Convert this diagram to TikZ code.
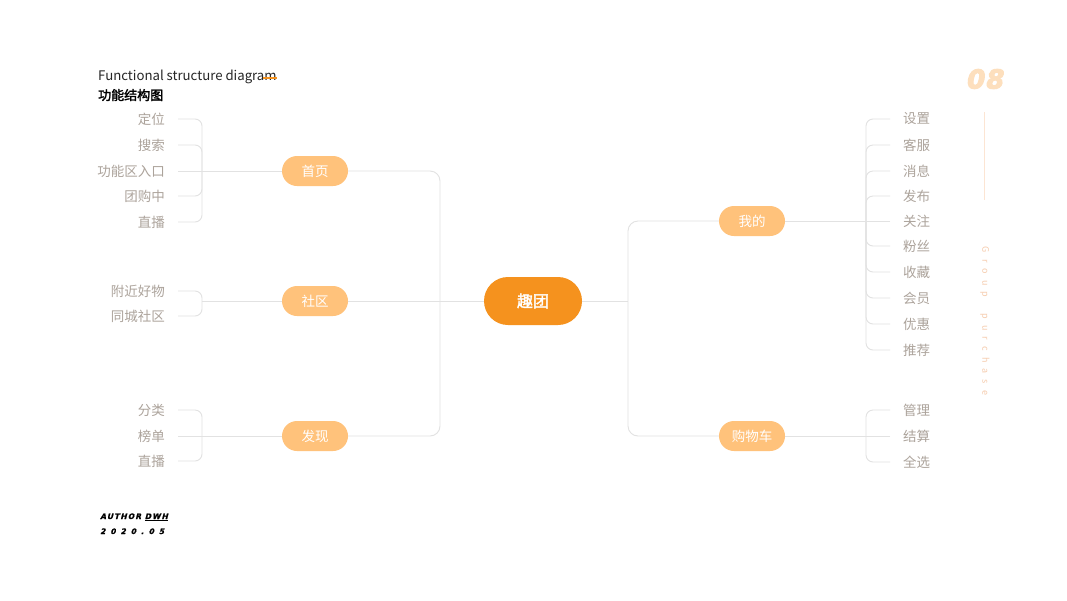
\documentclass[tikz,border=0pt]{standalone}
\usepackage{fontspec}
\setmainfont{Noto Sans CJK SC}
\newfontfamily\boldcjk[FakeBold=2]{Noto Sans CJK SC}
\newfontfamily\numfont[FakeSlant=0.25,FakeBold=1.5]{DejaVu Sans}
\newfontfamily\bignumfont[FakeSlant=0.2,FakeBold=4]{DejaVu Sans}
\usetikzlibrary{positioning}

\definecolor{linkgray}{HTML}{E2E2E2}
\definecolor{leafgray}{HTML}{ACA39B}
\definecolor{mainorange}{HTML}{F5921E}
\definecolor{softorange}{HTML}{FFC27B}
\definecolor{paleorange}{HTML}{FDDFBD}
\definecolor{faintorange}{HTML}{FCE5D3}
\definecolor{tagorange}{HTML}{F6CCAE}

\begin{document}
\begin{tikzpicture}[
    x=1pt, y=-1pt,
    link/.style={draw=linkgray, line width=0.9pt},
    bracket/.style={link, rounded corners=7pt},
    trunk/.style={link, rounded corners=10pt},
    hubnode/.style={
        fill=mainorange, text=white,
        rounded corners=24pt,
        minimum width=98pt, minimum height=48pt,
        font=\boldcjk\fontsize{16}{16}\selectfont
    },
    branchnode/.style={
        fill=softorange, text=white,
        rounded corners=15pt,
        minimum width=66pt, minimum height=30pt,
        font=\fontsize{13.5}{13.5}\selectfont
    },
    leafleft/.style={
        anchor=east, inner xsep=13pt, inner ysep=0pt,
        text=leafgray, font=\fontsize{13.5}{13.5}\selectfont
    },
    leafright/.style={leafleft, anchor=west}
]

% Page
\fill[white] (0,0) rectangle (1067,600);
\useasboundingbox (0,0) rectangle (1067,600);

% Heading
\node[anchor=base west, inner sep=0pt, text=black!85,
      font=\fontsize{13.2}{13.2}\selectfont] (title) at (98,80)
    {Functional structure diagram};
\fill[mainorange] ([xshift=-14pt,yshift=1.5pt]title.base east)
    rectangle ([yshift=3.5pt]title.base east);
\node[anchor=base west, inner sep=0pt, text=black,
      font=\boldcjk\fontsize{13}{13}\selectfont] (subtitle) at (98,100)
    {功能结构图};

% Page number and side tag
\node[inner sep=0pt, text=paleorange,
      font=\bignumfont\bfseries\fontsize{26}{26}\selectfont\addfontfeature{LetterSpace=4}]
    (pagenum) at (984,79) {08};
\draw[faintorange, line width=0.8pt] (984,112) -- (984,200);
\node[rotate=-90, inner sep=0pt, text=tagorange,
      font=\fontsize{9}{9}\selectfont\addfontfeature{LetterSpace=68}]
    (tag) at (985,321) {Group\hspace{8pt} purchase};

% Author
\node[anchor=base west, inner sep=0pt,
      font=\numfont\bfseries\fontsize{7.5}{7.5}\selectfont\addfontfeature{LetterSpace=15}]
    (author) at (100,519) {AUTHOR \underline{DWH}};
\node[anchor=base west, inner sep=0pt,
      font=\numfont\bfseries\fontsize{7.5}{7.5}\selectfont\addfontfeature{LetterSpace=66}]
    (date) at (100,534) {2020.05};

% Main nodes
\node[hubnode] (qutuan) at (533,301) {趣团};
\node[branchnode] (home) at (315,171) {首页};
\node[branchnode] (community) at (315,301) {社区};
\node[branchnode] (discover) at (315,436) {发现};
\node[branchnode] (mine) at (752,221) {我的};
\node[branchnode] (cart) at (752,436) {购物车};

% Spines
\coordinate (leftspine) at (440,301);
\coordinate (rightspine) at (628,301);
\draw[trunk] (home.east) -| (leftspine) |- (discover.east);
\draw[link] (community.east) -- (qutuan.west);
\draw[trunk] (mine.west) -| (rightspine) |- (cart.west);
\draw[link] (qutuan.east) -- (rightspine);

% Leaves of home
\node[leafleft] (locate) at (178,119) {定位};
\node[leafleft] (search) at (178,145) {搜索};
\node[leafleft] (entry) at (178,171) {功能区入口};
\node[leafleft] (groupbuy) at (178,196) {团购中};
\node[leafleft] (live) at (178,222) {直播};
\coordinate (homehub) at (202,171);
\draw[bracket] (locate.east) -| (homehub);
\draw[bracket] (search.east) -| (homehub);
\draw[bracket] (groupbuy.east) -| (homehub);
\draw[bracket] (live.east) -| (homehub);
\draw[link] (entry.east) -- (home.west);

% Leaves of community
\node[leafleft] (nearby) at (178,291) {附近好物};
\node[leafleft] (citywide) at (178,316) {同城社区};
\coordinate (communityhub) at (202,301);
\draw[bracket] (nearby.east) -| (communityhub);
\draw[bracket] (citywide.east) -| (communityhub);
\draw[link] (communityhub) -- (community.west);

% Leaves of discover
\node[leafleft] (category) at (178,410) {分类};
\node[leafleft] (ranking) at (178,436) {榜单};
\node[leafleft] (livestream) at (178,461) {直播};
\coordinate (discoverhub) at (202,436);
\draw[bracket] (category.east) -| (discoverhub);
\draw[bracket] (livestream.east) -| (discoverhub);
\draw[link] (ranking.east) -- (discover.west);

% Leaves of mine
\node[leafright] (settings) at (890,119) {设置};
\node[leafright] (service) at (890,145) {客服};
\node[leafright] (message) at (890,171) {消息};
\node[leafright] (publish) at (890,196) {发布};
\node[leafright] (follow) at (890,221) {关注};
\node[leafright] (fans) at (890,246) {粉丝};
\node[leafright] (favorite) at (890,272) {收藏};
\node[leafright] (member) at (890,298) {会员};
\node[leafright] (discount) at (890,324) {优惠};
\node[leafright] (recommend) at (890,350) {推荐};
\coordinate (minehub) at (866,221);
\draw[bracket] (settings.west) -| (minehub);
\draw[bracket] (service.west) -| (minehub);
\draw[bracket] (message.west) -| (minehub);
\draw[bracket] (publish.west) -| (minehub);
\draw[bracket] (fans.west) -| (minehub);
\draw[bracket] (favorite.west) -| (minehub);
\draw[bracket] (member.west) -| (minehub);
\draw[bracket] (discount.west) -| (minehub);
\draw[bracket] (recommend.west) -| (minehub);
\draw[link] (follow.west) -- (mine.east);

% Leaves of cart
\node[leafright] (manage) at (890,410) {管理};
\node[leafright] (settle) at (890,436) {结算};
\node[leafright] (selectall) at (890,462) {全选};
\coordinate (carthub) at (866,436);
\draw[bracket] (manage.west) -| (carthub);
\draw[bracket] (selectall.west) -| (carthub);
\draw[link] (settle.west) -- (cart.east);

\end{tikzpicture}
\end{document}
